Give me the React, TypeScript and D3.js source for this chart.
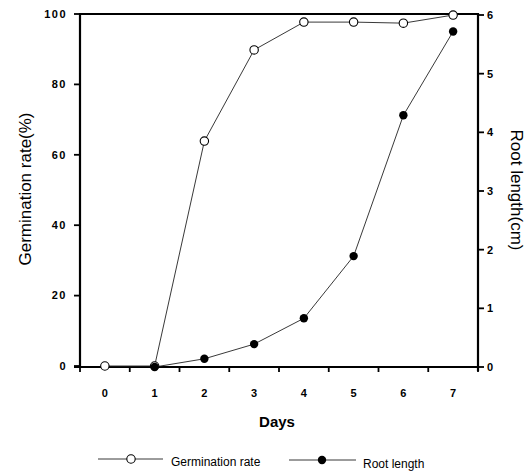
import React from "react";
import * as d3 from "d3";

const days = [0, 1, 2, 3, 4, 5, 6, 7];
const germinationRate = [0, 0, 63.9, 89.8, 97.7, 97.7, 97.4, 99.7];
const rootDays = [1, 2, 3, 4, 5, 6, 7];
const rootLength = [0, 0.14, 0.39, 0.83, 1.89, 4.29, 5.72];
const leftTicks = [0, 20, 40, 60, 80, 100];
const rightTicks = [0, 1, 2, 3, 4, 5, 6];
const xTickEdges = [-0.5, 0.5, 1.5, 2.5, 3.5, 4.5, 5.5, 6.5, 7.5];

const W = 528;
const H = 473;
const L = 80;
const R = 478;
const T = 14;
const B = 367;

export default function App() {
  const x = d3.scaleLinear().domain([-0.5, 7.5]).range([L, R]);
  const yL = d3.scaleLinear().domain([0, 100]).range([B - 1, T]);
  const yR = d3.scaleLinear().domain([0, 6]).range([B, T + 1]);
  const lineG = d3
    .line<number>()
    .x((_, i) => x(days[i]))
    .y((d) => yL(d));
  const lineR = d3
    .line<number>()
    .x((_, i) => x(rootDays[i]))
    .y((d) => yR(d));
  const tickFont = "Arial, 'Liberation Sans', sans-serif";
  return (
    <svg
      width={W}
      height={H}
      style={{ position: "absolute", left: 0, top: 0, background: "#fff" }}
      fontFamily={tickFont}
    >
      {/* frame */}
      <line x1={L} x2={R} y1={T} y2={T} stroke="#000" strokeWidth={2.2} />
      <line x1={L} x2={L} y1={T - 1} y2={B + 1} stroke="#000" strokeWidth={2.2} />
      <line x1={R} x2={R} y1={T - 1} y2={B + 4} stroke="#000" strokeWidth={2.2} />
      <line x1={L - 6} x2={R + 1} y1={B} y2={B} stroke="#000" strokeWidth={2.2} />

      {/* left ticks */}
      {leftTicks.map((t) => (
        <g key={"l" + t}>
          <line x1={L - 6} x2={L} y1={yL(t)} y2={yL(t)} stroke="#000" strokeWidth={1.8} />
          <text
            x={L - 13}
            y={yL(t)}
            dy="0.35em"
            textAnchor="end"
            fontSize={11}
            fontWeight="bold"
            letterSpacing={1.5}
          >
            {t}
          </text>
        </g>
      ))}

      {/* right ticks */}
      {rightTicks.map((t) => (
        <g key={"r" + t}>
          <line x1={R} x2={R + 6} y1={yR(t)} y2={yR(t)} stroke="#000" strokeWidth={1.8} />
          <text x={R + 9} y={yR(t)} dy="0.35em" textAnchor="start" fontSize={11} fontWeight="bold">
            {t}
          </text>
        </g>
      ))}

      {/* bottom ticks */}
      {xTickEdges.map((t) => (
        <line key={"b" + t} x1={x(t)} x2={x(t)} y1={B} y2={B + 5} stroke="#000" strokeWidth={1.8} />
      ))}
      {days.map((d) => (
        <text key={"xl" + d} x={x(d)} y={393} dy="0.35em" textAnchor="middle" fontSize={11} fontWeight="bold">
          {d}
        </text>
      ))}

      {/* series */}
      <path d={lineG(germinationRate) || ""} fill="none" stroke="#222" strokeWidth={0.9} />
      <path d={lineR(rootLength) || ""} fill="none" stroke="#222" strokeWidth={0.9} />
      {germinationRate.map((v, i) => (
        <circle key={"g" + i} cx={x(days[i])} cy={yL(v)} r={4.2} fill="#fff" stroke="#000" strokeWidth={1.1} />
      ))}
      {rootLength.map((v, i) => (
        <circle key={"rl" + i} cx={x(rootDays[i])} cy={yR(v)} r={4.2} fill="#000" />
      ))}

      {/* axis titles */}
      <text x={277} y={422} dy="0.35em" textAnchor="middle" fontSize={15} fontWeight="bold">
        Days
      </text>
      <text
        transform="translate(25,189) rotate(-90)"
        textAnchor="middle"
        dy="0.35em"
        fontSize={17}
      >
        Germination rate(%)
      </text>
      <text
        transform="translate(517,190) rotate(90)"
        textAnchor="middle"
        dy="0.35em"
        fontSize={17}
      >
        Root length(cm)
      </text>

      {/* legend */}
      <line x1={98} x2={163} y1={459} y2={459} stroke="#222" strokeWidth={0.9} />
      <circle cx={131} cy={459} r={4.2} fill="#fff" stroke="#000" strokeWidth={1.1} />
      <text x={171} y={462} dy="0.35em" fontSize={12}>
        Germination rate
      </text>
      <line x1={289} x2={356} y1={460} y2={460} stroke="#222" strokeWidth={0.9} />
      <circle cx={322} cy={460} r={4.2} fill="#000" />
      <text x={363} y={464} dy="0.35em" fontSize={12}>
        Root length
      </text>
    </svg>
  );
}
